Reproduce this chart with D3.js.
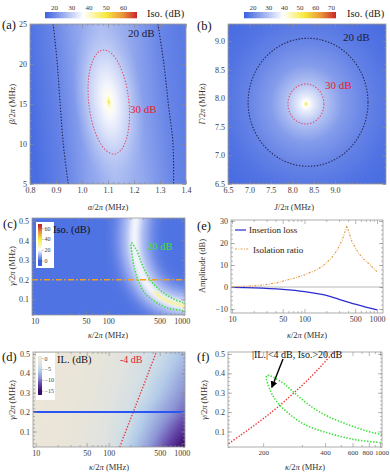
<!DOCTYPE html>
<head>
<meta charset="utf-8">
<script src="https://d3js.org/d3.v7.min.js"></script>
<style>
  body { margin: 0; background: #fff; }
</style>
</head>
<body>
<svg width="390" height="472"></svg>
<script>

// ---------- data ----------

// (a) isolation over alpha / beta
const aBarRange = [14.8, 68.1], aBarTicks = [20, 30, 40, 50, 60];
const aIsoDomain = [15, 37, 50, 60, 68];          // blue, white, yellow, orange, red
const aPeak = [1.103, 15.25];                     // alpha, beta
const a30Radii = [0.0775, 6.5];                   // 30 dB ellipse half widths
const aTilt = -0.0029;                            // d alpha / d beta of contours
const aCoreR = [0, 0.025, 0.07, 0.15, 0.35, 0.65, 1.0, 1.35, 1.7];
const aCoreIso = [54, 47, 41, 38, 35.5, 33, 30, 28.5, 27.5];
const aProfileAlpha = [0.8, 0.9, 0.916, 1.0, 1.1, 1.2, 1.32, 1.4];
const aProfileIso = [16.5, 19.4, 20, 24, 27.5, 25, 20, 18.5];
const a20Beta = [25, 20, 15, 10, 5];
const a20Left = [0.889, 0.905, 0.916, 0.928, 0.947];
const a20Right = [1.292, 1.315, 1.332, 1.35, 1.352];

// (b) isolation over J / Gamma
const bBarRange = [14.6, 73.2], bBarTicks = [20, 30, 40, 50, 60, 70];
const bIsoDomain = [15, 39.5, 53, 64, 73];
const bPeak = [8.32, 7.9];
const b20Center = [8.37, 7.93], b20Radii = [1.4, 1.12];
const b30Center = [8.32, 7.9], b30Radii = [0.42, 0.35];
const bR = [0, 0.02, 0.05, 0.12, 0.31, 0.6, 1, 1.4, 1.9];   // relative to 20 dB radius
const bIso = [56, 46, 40, 36.5, 30, 24, 20, 17.5, 16];

// (c) isolation over kappa / gamma
const cIsoDomain = [0, 20, 40, 53, 64];
const cBarRange = [-10, 68], cBarTicks = [0, 20, 40, 60];
const cBackIso = 2;
const ridgeK = [240, 228, 232, 258, 300, 365, 470, 660, 1100, 1300];
const ridgeG = [0.53, 0.43, 0.35, 0.27, 0.21, 0.16, 0.12, 0.09, 0.066, 0.06];
const coreK = [420, 520, 680, 1100, 1300];
const coreG = [0.14, 0.11, 0.088, 0.066, 0.06];
const gammaCut = 0.2;

// 20 dB isolation contour (used in c and f)
const loopUpperK = [207, 241, 278, 337, 418, 561, 792, 1037, 1150];
const loopUpperG = [0.388, 0.354, 0.295, 0.227, 0.177, 0.135, 0.10, 0.084, 0.078];
const loopLowerK = [207, 214, 229, 258, 311, 418, 626, 1037, 1150];
const loopLowerG = [0.388, 0.312, 0.253, 0.194, 0.135, 0.092, 0.058, 0.042, 0.039];

// (d) insertion loss grid, rows = gamma, cols = kappa
const ilKappa = [10, 17.8, 31.6, 56.2, 100, 178, 316, 562, 1000];
const ilGamma = [0.02, 0.08, 0.14, 0.2, 0.26, 0.32, 0.38, 0.44, 0.5];
const ilGrid = [
  [-0.2, -0.4, -0.8, -1.5, -2.6, -5.0, -8.0, -11.5, -15.0],
  [-0.2, -0.4, -0.75, -1.4, -2.45, -4.4, -7.2, -10.3, -13.4],
  [-0.2, -0.38, -0.72, -1.3, -2.3, -3.85, -6.4, -9.2, -12.0],
  [-0.2, -0.35, -0.75, -1.25, -2.1, -3.4, -5.8, -8.1, -10.4],
  [-0.15, -0.3, -0.6, -1.1, -2.0, -3.0, -4.8, -7.2, -9.6],
  [-0.15, -0.3, -0.55, -1.0, -1.8, -2.75, -4.2, -6.3, -8.7],
  [-0.12, -0.25, -0.5, -0.9, -1.6, -2.5, -3.85, -5.7, -8.0],
  [-0.1, -0.22, -0.45, -0.8, -1.45, -2.3, -3.55, -4.95, -7.2],
  [-0.1, -0.2, -0.4, -0.7, -1.3, -2.1, -3.3, -4.5, -6.5]
];
const ilDomain = [0, -2, -4, -6, -9, -12, -15];
const ilBarRange = [1, -17], ilBarTicks = [0, -5, -10, -15];
// -4 dB insertion loss contour (used in d and f)
const il4K = [142, 163, 188, 217, 250, 288, 332, 382, 440, 460];
const il4G = [0.02, 0.08, 0.14, 0.2, 0.26, 0.32, 0.38, 0.44, 0.5, 0.52];

// (e) cut at gamma = 0.2
const eKappa = [10, 15, 25, 40, 55, 75, 100, 140, 180, 230, 280, 330, 365, 385, 410, 450, 500, 560, 650, 760, 880, 1000];
const eIso = [0.1, 0.3, 0.8, 1.8, 3.0, 4.2, 5.5, 7.5, 9.6, 12.8, 16.5, 21.3, 25.3, 27.8, 24.8, 20.8, 18.0, 15.3, 12.8, 10.8, 8.8, 7.0];
const eILKappa = [10, 20, 50, 100, 150, 200, 300, 500, 700, 1000];
const eIL = [-0.2, -0.4, -1.1, -2.1, -3.0, -3.8, -5.6, -7.8, -9.1, -10.4];

const logMajor = [10, 50, 100, 500, 1000];
const logMinor = [20, 30, 40, 60, 70, 80, 90, 200, 300, 400, 600, 700, 800, 900];
const gammaMajor = [0.1, 0.2, 0.3, 0.4, 0.5];

// ---------- helpers ----------
const SERIF = "'Liberation Serif','DejaVu Serif',serif";
const ISO_COLORS = ["#3d63e0", "#ffffff", "#f6ea3e", "#e9923a", "#c8282a"];
const IL_COLORS = ["#ece6d6", "#e1e3de", "#cfdde7", "#b3cbe9", "#8d96d6", "#6446a8", "#3b0d6b"];

const svg = d3.select("svg");
const defs = svg.append("defs");

function isoScale(dom) {
  return d3.scaleLinear().domain(dom).range(ISO_COLORS).clamp(true);
}

function clipFor(id, x, y) {
  defs.append("clipPath").attr("id", id).append("rect")
    .attr("x", x.range()[0]).attr("y", y.range()[1])
    .attr("width", x.range()[1] - x.range()[0])
    .attr("height", y.range()[0] - y.range()[1]);
  return "url(#" + id + ")";
}

function blur(id, sd) {
  defs.append("filter").attr("id", id)
    .attr("x", "-50%").attr("y", "-50%").attr("width", "200%").attr("height", "200%")
    .append("feGaussianBlur").attr("stdDeviation", sd);
  return "url(#" + id + ")";
}

function styleAxis(sel) {
  sel.select(".domain").remove();
  sel.selectAll("line").attr("stroke", "#8a8a8a").attr("stroke-width", 0.6);
  sel.selectAll("text").attr("fill", "#3a3a3a").attr("font-size", 8).attr("font-family", SERIF);
}

function frame(x, y, o) {
  const g = svg.append("g");
  const [xl, xr] = x.range(), [yb, yt] = y.range();
  const xf = o.xFmt || (d => d), yf = o.yFmt || (d => d);
  const bottom = g.append("g").attr("transform", `translate(0,${yb})`)
    .call(d3.axisBottom(x).tickValues(o.xMajor).tickSize(-4).tickPadding(3).tickFormat(xf)).call(styleAxis);
  if (o.xSize) bottom.selectAll("text").attr("font-size", o.xSize);
  g.append("g").attr("transform", `translate(0,${yb})`)
    .call(d3.axisBottom(x).tickValues(o.xMinor).tickSize(-2).tickFormat("")).call(styleAxis);
  g.append("g").attr("transform", `translate(0,${yt})`)
    .call(d3.axisTop(x).tickValues(o.xMajor).tickSize(-4).tickFormat("")).call(styleAxis);
  g.append("g").attr("transform", `translate(0,${yt})`)
    .call(d3.axisTop(x).tickValues(o.xMinor).tickSize(-2).tickFormat("")).call(styleAxis);
  g.append("g").attr("transform", `translate(${xl},0)`)
    .call(d3.axisLeft(y).tickValues(o.yMajor).tickSize(-4).tickPadding(3).tickFormat(yf)).call(styleAxis);
  g.append("g").attr("transform", `translate(${xl},0)`)
    .call(d3.axisLeft(y).tickValues(o.yMinor).tickSize(-2).tickFormat("")).call(styleAxis);
  g.append("g").attr("transform", `translate(${xr},0)`)
    .call(d3.axisRight(y).tickValues(o.yMajor).tickSize(-4).tickFormat("")).call(styleAxis);
  g.append("g").attr("transform", `translate(${xr},0)`)
    .call(d3.axisRight(y).tickValues(o.yMinor).tickSize(-2).tickFormat("")).call(styleAxis);
  g.append("rect").attr("x", xl).attr("y", yt).attr("width", xr - xl).attr("height", yb - yt)
    .attr("fill", "none").attr("stroke", "#9a9a9a").attr("stroke-width", 0.8);
  return bottom;
}

function label(x, y, str, opts = {}) {
  const t = svg.append("text").attr("x", x).attr("y", y)
    .attr("font-family", SERIF).attr("font-size", opts.size || 8.5)
    .attr("fill", opts.fill || "#333").attr("text-anchor", opts.anchor || "middle");
  if (opts.rotate) t.attr("transform", `rotate(-90,${x},${y})`);
  str.split(/([αβγκπΓJ])/).filter(s => s).forEach(s => {
    t.append("tspan").text(s).attr("font-style", /^[αβγκπΓJ]$/.test(s) ? "italic" : null);
  });
  return t;
}

function hBar(id, x0, x1, y0, h, range, dom, color) {
  const lg = defs.append("linearGradient").attr("id", id);
  lg.selectAll("stop").data(dom).join("stop")
    .attr("offset", d => (d - range[0]) / (range[1] - range[0]))
    .attr("stop-color", d => color(d));
  svg.append("rect").attr("x", x0).attr("y", y0).attr("width", x1 - x0).attr("height", h)
    .attr("fill", `url(#${id})`);
}

const minus = d => (d < 0 ? "\u2212" + Math.abs(d) : d);
const fmt1 = d => d3.format(".1f")(d);
const dotted = "1.4,1.6";

// ================= (a) =================
const xA = d3.scaleLinear().domain([0.8, 1.4]).range([30, 186]);
const yA = d3.scaleLinear().domain([5, 25]).range([184, 24]);
const cA = isoScale(aIsoDomain);
{
  const g = svg.append("g").attr("clip-path", clipFor("clipA", xA, yA));
  const pxA = xA(aPeak[0]), pyA = yA(aPeak[1]);
  const shear = -aTilt * (xA(1) - xA(0)) / (yA(0) - yA(1));
  const tr = `translate(0,${pyA}) skewX(${Math.atan(shear) * 180 / Math.PI}) translate(0,${-pyA})`;

  const pg = defs.append("linearGradient").attr("id", "aProf").attr("gradientUnits", "userSpaceOnUse")
    .attr("x1", xA(0.8)).attr("x2", xA(1.4)).attr("y1", 0).attr("y2", 0);
  pg.selectAll("stop").data(aProfileAlpha).join("stop")
    .attr("offset", d => (xA(d) - xA(0.8)) / (xA(1.4) - xA(0.8)))
    .attr("stop-color", (d, i) => cA(aProfileIso[i]));
  g.append("rect").attr("x", xA(0.8) - 40).attr("y", yA(25)).attr("width", xA(1.4) - xA(0.8) + 80)
    .attr("height", yA(5) - yA(25)).attr("fill", "url(#aProf)").attr("transform", tr);

  const kMax = d3.max(aCoreR);
  const rg = defs.append("radialGradient").attr("id", "aCore");
  rg.selectAll("stop").data(aCoreR).join("stop")
    .attr("offset", d => d / kMax)
    .attr("stop-color", (d, i) => cA(aCoreIso[i]))
    .attr("stop-opacity", d => d <= 1 ? 1 : 1 - (d - 1) / (kMax - 1));
  const rx = xA(aPeak[0] + a30Radii[0]) - pxA, ry = pyA - yA(aPeak[1] + a30Radii[1]);
  g.append("ellipse").attr("cx", pxA).attr("cy", pyA).attr("rx", rx * kMax).attr("ry", ry * kMax)
    .attr("fill", "url(#aCore)").attr("transform", tr);

  g.append("ellipse").attr("cx", pxA).attr("cy", pyA).attr("rx", rx).attr("ry", ry)
    .attr("fill", "none").attr("stroke", "#e0506a").attr("stroke-width", 1.1)
    .attr("stroke-dasharray", dotted).attr("transform", tr);

  const line = d3.line().curve(d3.curveCatmullRom).x(d => xA(d[0])).y(d => yA(d[1]));
  [a20Left, a20Right].forEach(arr => {
    g.append("path").attr("d", line(arr.map((a, i) => [a, a20Beta[i]])))
      .attr("fill", "none").attr("stroke", "#262650").attr("stroke-width", 1.1)
      .attr("stroke-dasharray", dotted);
  });
}
frame(xA, yA, {
  xMajor: d3.range(0.8, 1.41, 0.1), xMinor: d3.range(0.8, 1.41, 0.02), xFmt: fmt1,
  yMajor: [5, 10, 15, 20, 25], yMinor: d3.range(5, 25.1, 1)
});
label(128, 37, "20 dB", { size: 11, fill: "#1c1c3c", anchor: "start" });
label(130, 113, "30 dB", { size: 11, fill: "#e8202a", anchor: "start" });
label(108, 210, "α/2π (MHz)");
label(15, 104, "β/2π (MHz)", { rotate: true });
label(2, 29, "(a)", { size: 12.5, fill: "#111", anchor: "start" });
{
  const bx = d3.scaleLinear().domain(aBarRange).range([45, 137]);
  hBar("aBar", 45, 137, 12, 6.3, aBarRange, aIsoDomain, cA);
  svg.append("g").attr("transform", "translate(0,12)")
    .call(d3.axisTop(bx).tickValues(aBarTicks).tickSize(0).tickPadding(2.5)).call(styleAxis)
    .selectAll("text").attr("font-size", 7);
  label(147, 17, "Iso. (dB)", { size: 10.5, anchor: "start", fill: "#222" });
}

// ================= (b) =================
const xB = d3.scaleLinear().domain([6.5, 10.19]).range([228, 386]);
const yB = d3.scaleLinear().domain([6.5, 9.3]).range([184, 24]);
const cB = isoScale(bIsoDomain);
{
  const g = svg.append("g").attr("clip-path", clipFor("clipB", xB, yB));
  g.append("rect").attr("x", 228).attr("y", 24).attr("width", 158).attr("height", 160)
    .attr("fill", cB(bIso[bIso.length - 1]));
  const kMax = d3.max(bR);
  const cx = xB(b20Center[0]), cy = yB(b20Center[1]);
  const rx = (xB(b20Center[0] + b20Radii[0]) - cx) * kMax;
  const ry = (cy - yB(b20Center[1] + b20Radii[1])) * kMax;
  const rg = defs.append("radialGradient").attr("id", "bCore")
    .attr("fx", 0.5 + (xB(bPeak[0]) - cx) / (2 * rx))
    .attr("fy", 0.5 + (yB(bPeak[1]) - cy) / (2 * ry));
  rg.selectAll("stop").data(bR).join("stop")
    .attr("offset", d => d / kMax).attr("stop-color", (d, i) => cB(bIso[i]));
  g.append("ellipse").attr("cx", cx).attr("cy", cy).attr("rx", rx).attr("ry", ry).attr("fill", "url(#bCore)");

  [[b20Center, b20Radii, "#262650"], [b30Center, b30Radii, "#e0506a"]].forEach(([c, r, col]) => {
    g.append("ellipse").attr("cx", xB(c[0])).attr("cy", yB(c[1]))
      .attr("rx", xB(c[0] + r[0]) - xB(c[0])).attr("ry", yB(c[1]) - yB(c[1] + r[1]))
      .attr("fill", "none").attr("stroke", col).attr("stroke-width", 1.1).attr("stroke-dasharray", dotted);
  });
}
frame(xB, yB, {
  xMajor: d3.range(6.5, 9.01, 0.5), xMinor: d3.range(6.5, 10.19, 0.1), xFmt: fmt1,
  yMajor: d3.range(6.5, 9.01, 0.5), yMinor: d3.range(6.5, 9.31, 0.1), yFmt: fmt1
});
label(343, 41, "20 dB", { size: 11, fill: "#1c1c3c", anchor: "start" });
label(325, 89, "30 dB", { size: 11, fill: "#e8202a", anchor: "start" });
label(294, 210, "J/2π (MHz)");
label(205, 104, "Γ/2π (MHz)", { rotate: true });
label(197, 30, "(b)", { size: 12.5, fill: "#111", anchor: "start" });
{
  const bx = d3.scaleLinear().domain(bBarRange).range([244, 336]);
  hBar("bBar", 244, 336, 12, 6.3, bBarRange, bIsoDomain, cB);
  svg.append("g").attr("transform", "translate(0,12)")
    .call(d3.axisTop(bx).tickValues(bBarTicks).tickSize(0).tickPadding(2.5)).call(styleAxis)
    .selectAll("text").attr("font-size", 7);
  label(347, 17, "Iso. (dB)", { size: 10.5, anchor: "start", fill: "#222" });
}

// ================= (c) =================
const xC = d3.scaleLog().domain([9.2, 1110]).range([32, 185]);
const yC = d3.scaleLinear().domain([0.02, 0.515]).range([315, 218]);
const cC = isoScale(cIsoDomain);
const loopPts = loopLowerK.map((k, i) => [k, loopLowerG[i]]).reverse()
  .concat(loopUpperK.map((k, i) => [k, loopUpperG[i]]).slice(1));
{
  const g = svg.append("g").attr("clip-path", clipFor("clipC", xC, yC));
  g.append("rect").attr("x", 32).attr("y", 218).attr("width", 153).attr("height", 97).attr("fill", cC(cBackIso));
  const line = d3.line().curve(d3.curveCatmullRom).x(d => xC(d[0])).y(d => yC(d[1]));
  const ridge = ridgeK.map((k, i) => [k, ridgeG[i]]);
  [[34, 9, 7], [20, 13, 4], [9, 19, 2.5]].forEach(([w, v, b], i) => {
    g.append("path").attr("d", line(ridge)).attr("fill", "none")
      .attr("stroke", cC(v)).attr("stroke-width", w).attr("stroke-linecap", "round")
      .attr("filter", blur("cBlur" + i, b));
  });
  g.append("path").attr("d", line(coreK.map((k, i) => [k, coreG[i]]))).attr("fill", "none")
    .attr("stroke", cC(34)).attr("stroke-width", 2.2).attr("filter", blur("cBlurCore", 0.8));

  g.append("path").attr("d", line(loopPts)).attr("fill", "none")
    .attr("stroke", "#3ee03a").attr("stroke-width", 1.6).attr("stroke-dasharray", dotted);
  g.append("line").attr("x1", 32).attr("x2", 185).attr("y1", yC(gammaCut)).attr("y2", yC(gammaCut))
    .attr("stroke", "#f5a01a").attr("stroke-width", 1.6).attr("stroke-dasharray", "6,2.2,1.6,2.2");
}
frame(xC, yC, {
  xMajor: logMajor, xMinor: logMinor,
  yMajor: gammaMajor, yMinor: d3.range(0.02, 0.515, 0.02), yFmt: fmt1
});
{
  svg.append("rect").attr("x", 36).attr("y", 222).attr("width", 18).attr("height", 46).attr("fill", "#fff");
  const by = d3.scaleLinear().domain(cBarRange).range([266, 224]);
  const lg = defs.append("linearGradient").attr("id", "cBar").attr("x1", 0).attr("x2", 0).attr("y1", 1).attr("y2", 0);
  lg.selectAll("stop").data(cIsoDomain).join("stop")
    .attr("offset", d => (d - cBarRange[0]) / (cBarRange[1] - cBarRange[0])).attr("stop-color", d => cC(d));
  svg.append("rect").attr("x", 38).attr("y", 224).attr("width", 4).attr("height", 42).attr("fill", "url(#cBar)");
  svg.append("g").attr("transform", "translate(42,0)")
    .call(d3.axisRight(by).tickValues(cBarTicks).tickSize(1.5).tickPadding(1)).call(styleAxis)
    .selectAll("text").attr("font-size", 6);
}
label(53, 233, "Iso. (dB)", { size: 10.5, anchor: "start", fill: "#111" });
label(147, 250, "20 dB", { size: 10.5, anchor: "start", fill: "#3ee03a" });
label(108, 338, "κ/2π (MHz)");
label(15, 266, "γ/2π (MHz)", { rotate: true });
label(3, 228, "(c)", { size: 12.5, fill: "#111", anchor: "start" });

// ================= (d) =================
const xD = d3.scaleLog().domain([9.2, 1110]).range([33, 185]);
const yD = d3.scaleLinear().domain([0.02, 0.51]).range([447, 352]);
const cD = d3.scaleLinear().domain(ilDomain).range(IL_COLORS).clamp(true);
{
  const g = svg.append("g").attr("clip-path", clipFor("clipD", xD, yD));
  const n = ilKappa.length, m = ilGamma.length;
  const lk0 = Math.log10(ilKappa[0]), lkStep = (Math.log10(ilKappa[n - 1]) - lk0) / (n - 1);
  const gStep = (ilGamma[m - 1] - ilGamma[0]) / (m - 1);
  const path = d3.geoPath(d3.geoTransform({
    point(cx, cy) {
      this.stream.point(xD(Math.pow(10, lk0 + (cx - 0.5) * lkStep)), yD(ilGamma[0] + (cy - 0.5) * gStep));
    }
  }));
  const step = 0.25;
  const bands = d3.contours().size([n, m]).thresholds(d3.range(-16, 0.01, step))(ilGrid.flat());
  g.selectAll("path.band").data(bands).join("path").attr("class", "band")
    .attr("d", path).attr("fill", d => cD(d.value + step / 2)).attr("stroke", d => cD(d.value + step / 2))
    .attr("stroke-width", 0.3);

  const line = d3.line().curve(d3.curveCatmullRom).x(d => xD(d[0])).y(d => yD(d[1]));
  g.append("path").attr("d", line(il4K.map((k, i) => [k, il4G[i]]))).attr("fill", "none")
    .attr("stroke", "#e83a3a").attr("stroke-width", 1.4).attr("stroke-dasharray", dotted);
  g.append("line").attr("x1", 33).attr("x2", 185).attr("y1", yD(gammaCut)).attr("y2", yD(gammaCut))
    .attr("stroke", "#2a55f0").attr("stroke-width", 2);
}
frame(xD, yD, {
  xMajor: logMajor, xMinor: logMinor,
  yMajor: gammaMajor, yMinor: d3.range(0.02, 0.51, 0.02), yFmt: fmt1
});
{
  svg.append("rect").attr("x", 36).attr("y", 353).attr("width", 19).attr("height", 47).attr("fill", "#fff");
  const by = d3.scaleLinear().domain(ilBarRange).range([356, 395]);
  const lg = defs.append("linearGradient").attr("id", "dBar").attr("x1", 0).attr("x2", 0).attr("y1", 0).attr("y2", 1);
  lg.selectAll("stop").data(ilDomain).join("stop")
    .attr("offset", d => (d - ilBarRange[0]) / (ilBarRange[1] - ilBarRange[0])).attr("stop-color", d => cD(d));
  svg.append("rect").attr("x", 38).attr("y", 356).attr("width", 4).attr("height", 39).attr("fill", "url(#dBar)");
  svg.append("g").attr("transform", "translate(42,0)")
    .call(d3.axisRight(by).tickValues(ilBarTicks).tickSize(1.5).tickPadding(1).tickFormat(minus)).call(styleAxis)
    .selectAll("text").attr("font-size", 6);
}
label(57, 363, "IL. (dB)", { size: 10.5, anchor: "start", fill: "#111" });
label(120, 363, "-4 dB", { size: 10, anchor: "start", fill: "#e8202a" });
label(109, 470, "κ/2π (MHz)");
label(15, 400, "γ/2π (MHz)", { rotate: true });
label(2, 361, "(d)", { size: 12.5, fill: "#111", anchor: "start" });

// ================= (e) =================
const xE = d3.scaleLog().domain([9.7, 1210]).range([231, 383]);
const yE = d3.scaleLinear().domain([-11.8, 30.45]).range([313, 220]);
{
  const g = svg.append("g").attr("clip-path", clipFor("clipE", xE, yE));
  g.append("line").attr("x1", 231).attr("x2", 383).attr("y1", yE(0)).attr("y2", yE(0))
    .attr("stroke", "#b0b0b0").attr("stroke-width", 0.9);
  g.append("path").attr("d", d3.line().curve(d3.curveMonotoneX).x(d => xE(d[0])).y(d => yE(d[1]))(eILKappa.map((k, i) => [k, eIL[i]])))
    .attr("fill", "none").attr("stroke", "#2b2bd0").attr("stroke-width", 1.2);
  g.append("path").attr("d", d3.line().x(d => xE(d[0])).y(d => yE(d[1]))(eKappa.map((k, i) => [k, eIso[i]])))
    .attr("fill", "none").attr("stroke", "#e4a050").attr("stroke-width", 1.2).attr("stroke-dasharray", "2,1.4,0.8,1.4");
}
frame(xE, yE, {
  xMajor: logMajor, xMinor: logMinor,
  yMajor: [-10, 0, 10, 20, 30], yMinor: d3.range(-10, 30.1, 2), yFmt: minus
});
svg.append("line").attr("x1", 235).attr("x2", 246).attr("y1", 230).attr("y2", 230).attr("stroke", "#2b2bd0").attr("stroke-width", 1.2);
svg.append("line").attr("x1", 235).attr("x2", 249).attr("y1", 249).attr("y2", 249).attr("stroke", "#e4a050")
  .attr("stroke-width", 1.2).attr("stroke-dasharray", "2,1.4,0.8,1.4");
label(249, 233, "Insertion loss", { size: 9, anchor: "start", fill: "#222" });
label(253, 253, "Isolation ratio", { size: 9, anchor: "start", fill: "#222" });
label(307, 338, "κ/2π (MHz)");
label(205, 266, "Amplitude (dB)", { rotate: true });
label(197, 230, "(e)", { size: 12.5, fill: "#111", anchor: "start" });

// ================= (f) =================
const xF = d3.scalePow().exponent(-0.5).domain([147, 1044]).range([228, 382]);
const yF = d3.scaleLinear().domain([0.02, 0.51]).range([447, 352]);
{
  const g = svg.append("g").attr("clip-path", clipFor("clipF", xF, yF));
  const line = d3.line().curve(d3.curveCatmullRom).x(d => xF(d[0])).y(d => yF(d[1]));
  g.append("path").attr("d", line(il4K.map((k, i) => [k, il4G[i]]))).attr("fill", "none")
    .attr("stroke", "#e83a3a").attr("stroke-width", 1.4).attr("stroke-dasharray", dotted);
  g.append("path").attr("d", line(loopPts)).attr("fill", "none")
    .attr("stroke", "#3ee03a").attr("stroke-width", 1.6).attr("stroke-dasharray", dotted);
}
const fBottom = frame(xF, yF, {
  xMajor: [200, 400, 600, 800, 1000], xMinor: [300, 500, 700, 900], xSize: 7,
  yMajor: gammaMajor, yMinor: d3.range(0.02, 0.51, 0.02), yFmt: fmt1
});
// the two last labels nearly touch in the original; keep them apart
fBottom.selectAll(".tick text").filter(d => d === 800).attr("dx", -1.5);
fBottom.selectAll(".tick text").filter(d => d === 1000).attr("dx", 1.5);
defs.append("marker").attr("id", "arrow").attr("viewBox", "0 0 10 10").attr("refX", 8).attr("refY", 5)
  .attr("markerWidth", 5).attr("markerHeight", 5).attr("orient", "auto")
  .append("path").attr("d", "M0,0L10,5L0,10z").attr("fill", "#000");
svg.append("line").attr("x1", 283).attr("y1", 359).attr("x2", 272).attr("y2", 387)
  .attr("stroke", "#000").attr("stroke-width", 1.4).attr("marker-end", "url(#arrow)");
label(252, 358, "|IL.|<4 dB, Iso.>20 dB", { size: 10, anchor: "start", fill: "#111" });
label(305, 470, "κ/2π (MHz)");
label(207, 400, "γ/2π (MHz)", { rotate: true });
label(197, 361, "(f)", { size: 12.5, fill: "#111", anchor: "start" });

</script>
</body>
